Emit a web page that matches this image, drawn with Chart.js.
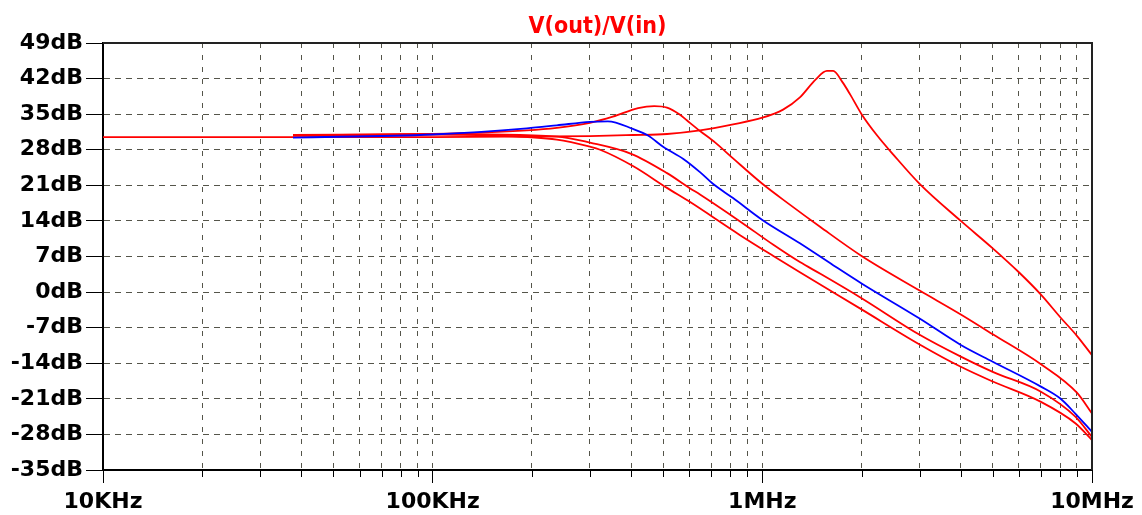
<!DOCTYPE html>
<html>
<head>
<meta charset="UTF-8">
<title>V(out)/V(in)</title>
<script src="https://cdn.jsdelivr.net/npm/chart.js"></script>
<style>
    html, body { margin: 0; padding: 0; background: #fff; }
    #bode { display: block; }
</style>
</head>
<body>
<canvas id="bode" width="1142" height="515"></canvas>
<script>
    const titre = "V(out)/V(in)";

    // axe x : decades et leurs libelles
    const decades = [1e4, 1e5, 1e6, 1e7];
    const decadeLabels = ["10KHz", "100KHz", "1MHz", "10MHz"];
    // axe y : graduations en dB
    const gainTicks = [-35, -28, -21, -14, -7, 0, 7, 14, 21, 28, 35, 42, 49];

    // courbe avec le pic a 1.6MHz
    const freqA = [1e4, 1e5, 3e5, 4.05e5, 5.14e5, 6.47e5, 8.15e5, 1.0e6, 1.156e6, 1.3e6, 1.45e6, 1.57e6, 1.64e6, 1.75e6, 1.85e6, 2.0e6, 2.23e6, 2.5e6, 3.0e6, 4.0e6, 5.0e6, 6.0e6, 7.0e6, 8.0e6, 9.0e6, 1e7];
    const gainA = [30.5, 30.5, 30.7, 30.9, 31.1, 31.8, 33.0, 34.3, 35.9, 38.3, 41.8, 43.5, 43.5, 41.3, 38.8, 35.0, 30.8, 27.0, 21.3, 14.0, 8.6, 3.9, -0.5, -4.9, -8.6, -12.4];

    // courbe avec le pic a 470kHz
    const freqB = [3.77e4, 1e5, 1.93e5, 2.38e5, 3e5, 3.52e5, 4.2e5, 4.7e5, 5.14e5, 5.6e5, 5.9e5, 6.47e5, 7.2e5, 8.15e5, 1.0e6, 1.2e6, 1.5e6, 2.0e6, 3.0e6, 4.0e6, 5.0e6, 7.0e6, 9.0e6, 1e7];
    const gainB = [30.8, 31.1, 31.8, 32.3, 33.3, 34.5, 36.2, 36.6, 36.3, 35.0, 33.8, 31.7, 29.4, 26.3, 21.3, 17.4, 12.8, 7.1, 0.3, -4.4, -8.3, -14.2, -19.8, -23.9];

    // courbe bleue
    const freqC = [3.77e4, 1e5, 1.93e5, 2.38e5, 3.0e5, 3.4e5, 4.05e5, 4.5e5, 5.0e5, 5.76e5, 6.47e5, 7.08e5, 8.15e5, 1.0e6, 1.3e6, 1.64e6, 2.0e6, 3.0e6, 4.0e6, 5.0e6, 7.0e6, 8.0e6, 8.9e6, 1e7];
    const gainC = [30.4, 31.0, 32.2, 32.8, 33.5, 33.6, 32.1, 30.8, 28.6, 26.2, 23.6, 21.3, 18.5, 14.2, 9.6, 5.3, 1.7, -5.2, -10.4, -13.7, -18.6, -20.9, -23.9, -27.5];

    // deux courbes rouges du bas
    const freqD = [3.77e4, 1e5, 2.38e5, 3e5, 4e5, 5.14e5, 6.04e5, 6.47e5, 8.56e5, 1.08e6, 1.3e6, 1.5e6, 2.0e6, 3.0e6, 4.0e6, 5.0e6, 7.0e6, 8.9e6, 1e7];
    const gainD = [30.9, 31.1, 30.6, 29.4, 27.2, 23.4, 20.4, 19.2, 13.9, 9.3, 5.9, 3.6, -1.2, -8.4, -12.7, -15.7, -19.6, -24.5, -28.5];

    const freqE = [3.77e4, 1e5, 1.5e5, 2.38e5, 3.0e5, 3.22e5, 4.05e5, 5.14e5, 6.04e5, 8.56e5, 1.08e6, 1.3e6, 2.0e6, 3.0e6, 4.0e6, 5.0e6, 7.0e6, 8.9e6, 1e7];
    const gainE = [30.9, 31.0, 30.8, 30.0, 28.6, 28.0, 24.8, 20.5, 17.7, 11.2, 7.1, 3.9, -3.4, -10.3, -14.7, -17.6, -21.6, -25.8, -29.1];

    const ROUGE = "#ff0000";
    const BLEU = "#0000ff";
    const GRILLE = "#55554a";
    const police = '"DejaVu Sans", "Liberation Sans", sans-serif';

    function points(freqs, gains) {
        return freqs.map((f, i) => ({ x: f, y: gains[i] }));
    }

    function serie(freqs, gains, couleur) {
        return {
            data: points(freqs, gains),
            borderColor: couleur,
            borderWidth: 1.8,
            pointRadius: 0,
            fill: false,
            cubicInterpolationMode: "monotone"
        };
    }

    // cadre du haut et de droite, petites graduations de l'axe x, titre
    const cadre = {
        id: "cadre",
        afterDraw(chart) {
            const { ctx, chartArea: a, scales } = chart;
            ctx.save();
            ctx.strokeStyle = "#000";
            ctx.lineWidth = 1;
            for (let i = 0; i < decades.length - 1; i++) {
                for (let k = 2; k <= 9; k++) {
                    const px = Math.round(scales.x.getPixelForValue(k * decades[i])) + 0.5;
                    ctx.beginPath();
                    ctx.moveTo(px, a.bottom);
                    ctx.lineTo(px, a.bottom + 7);
                    ctx.stroke();
                }
            }
            ctx.strokeStyle = "#222";
            ctx.lineWidth = 2;
            ctx.beginPath();
            ctx.moveTo(a.left, a.top);
            ctx.lineTo(a.right, a.top);
            ctx.lineTo(a.right, a.bottom);
            ctx.stroke();

            ctx.fillStyle = ROUGE;
            ctx.font = 'bold 23px "DejaVu Sans Condensed", "Liberation Sans Narrow", ' + police;
            ctx.textAlign = "center";
            ctx.textBaseline = "alphabetic";
            ctx.fillText(titre, (a.left + a.right) / 2, 33);
            ctx.restore();
        }
    };

    const canvas = document.getElementById("bode");

    new Chart(canvas, {
        type: "line",
        data: {
            datasets: [
                serie(freqC, gainC, BLEU),
                serie(freqA, gainA, ROUGE),
                serie(freqB, gainB, ROUGE),
                serie(freqD, gainD, ROUGE),
                serie(freqE, gainE, ROUGE)
            ]
        },
        options: {
            responsive: false,
            animation: false,
            layout: { padding: { top: 43, right: 50, left: 0, bottom: 0 } },
            plugins: {
                legend: { display: false },
                tooltip: { enabled: false }
            },
            scales: {
                x: {
                    type: "logarithmic",
                    min: decades[0],
                    max: decades[decades.length - 1],
                    afterBuildTicks: scale => {
                        const t = [];
                        for (let i = 0; i < decades.length - 1; i++) {
                            for (let k = 1; k <= 9; k++) t.push({ value: k * decades[i] });
                        }
                        t.push({ value: decades[decades.length - 1] });
                        scale.ticks = t;
                    },
                    afterFit: scale => { scale.height = 45; },
                    grid: {
                        color: GRILLE,
                        lineWidth: 1,
                        tickLength: 13,
                        tickColor: c => decades.includes(c.tick && c.tick.value) ? "#000" : "rgba(0,0,0,0)"
                    },
                    border: { display: true, color: "#000", width: 2, dash: [5, 7] },
                    ticks: {
                        autoSkip: false,
                        maxRotation: 0,
                        padding: 6,
                        color: "#000",
                        font: { family: police, size: 22, weight: "bold" },
                        callback: v => {
                            const i = decades.indexOf(v);
                            return i >= 0 ? decadeLabels[i] : "";
                        }
                    }
                },
                y: {
                    min: gainTicks[0],
                    max: gainTicks[gainTicks.length - 1],
                    afterBuildTicks: scale => {
                        scale.ticks = gainTicks.map(v => ({ value: v }));
                    },
                    afterFit: scale => { scale.width = 103; },
                    grid: {
                        color: GRILLE,
                        lineWidth: 1,
                        tickLength: 17,
                        tickColor: "#000"
                    },
                    border: { display: true, color: "#000", width: 2, dash: [6, 5] },
                    ticks: {
                        padding: 3,
                        color: "#000",
                        font: { family: police, size: 22, weight: "bold" },
                        callback: v => v + "dB"
                    }
                }
            }
        },
        plugins: [cadre]
    });
</script>
</body>
</html>
